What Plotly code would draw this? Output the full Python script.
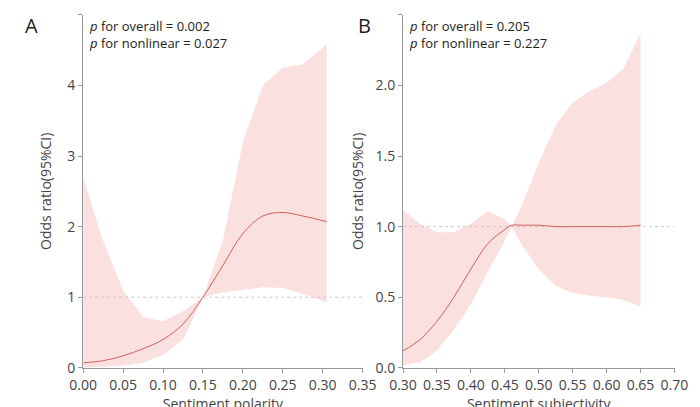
import plotly.graph_objects as go

# Panel A: Sentiment polarity
a_x = [0, 0.025, 0.05, 0.075, 0.1, 0.125, 0.15, 0.175, 0.2, 0.225, 0.25, 0.275, 0.305]
a_or = [0.07, 0.10, 0.17, 0.27, 0.40, 0.62, 1.0, 1.45, 1.9, 2.15, 2.2, 2.15, 2.07]
a_up = [2.7, 1.8, 1.1, 0.72, 0.66, 0.8, 1.0, 1.8, 3.2, 4.0, 4.25, 4.3, 4.58]
a_lo = [0.0, 0.01, 0.03, 0.07, 0.18, 0.4, 1.0, 1.07, 1.11, 1.14, 1.13, 1.05, 0.93]

# Panel B: Sentiment subjectivity
b_x = [0.30, 0.325, 0.35, 0.375, 0.40, 0.425, 0.45, 0.46, 0.475, 0.5, 0.525, 0.55, 0.575, 0.6, 0.625, 0.65]
b_or = [0.12, 0.2, 0.33, 0.5, 0.7, 0.88, 0.98, 1.01, 1.01, 1.01, 1.0, 1.0, 1.0, 1.0, 1.0, 1.01]
b_up = [1.12, 1.02, 0.96, 0.96, 1.02, 1.11, 1.05, 1.0, 1.15, 1.45, 1.72, 1.88, 1.96, 2.02, 2.12, 2.37]
b_lo = [0.02, 0.04, 0.12, 0.27, 0.45, 0.68, 0.9, 1.0, 0.87, 0.7, 0.58, 0.53, 0.51, 0.5, 0.48, 0.43]

FILL = "rgba(246,205,203,0.6)"
LINE = "#d0605a"
fig = go.Figure()

def panel(x, orv, up, lo, xa, ya, xmax):
    fig.add_trace(go.Scatter(x=x + x[::-1], y=up + lo[::-1], fill="toself", fillcolor=FILL,
                             line=dict(width=0), hoverinfo="skip",
                             xaxis=xa, yaxis=ya, showlegend=False))
    fig.add_trace(go.Scatter(x=[x[0], xmax], y=[1, 1], mode="lines",
                             line=dict(color="#c8c8c8", width=1, dash="3px,3px"),
                             xaxis=xa, yaxis=ya, showlegend=False))
    fig.add_trace(go.Scatter(x=x, y=orv, mode="lines", line=dict(color=LINE, width=1, shape="spline"),
                             xaxis=xa, yaxis=ya, showlegend=False))

panel(a_x, a_or, a_up, a_lo, "x", "y", 0.35)
panel(b_x, b_or, b_up, b_lo, "x2", "y2", 0.70)

ax = dict(showline=True, linecolor="#999999", ticks="outside", tickcolor="#999999", ticklen=4,
          showgrid=False, zeroline=False, tickfont=dict(size=14, color="#444"),
          title_font=dict(size=14, color="#444"))
fig.update_layout(
    width=700, height=407, margin=dict(l=0, r=0, t=0, b=0),
    plot_bgcolor="white", paper_bgcolor="white", font=dict(family="Open Sans"),
    xaxis=dict(ax, domain=[0.091, 0.507], range=[0, 0.3501], tickvals=[0, .05, .1, .15, .2, .25, .3, .35],
               tickformat=".2f", title_text="Sentiment polarity", title_standoff=0),
    yaxis=dict(ax, domain=[0.096, 0.983], range=[0, 5.001], tickvals=[0, 1, 2, 3, 4, 5],
               title_text="Odds ratio(95%CI)", anchor="x", title_standoff=12),
    xaxis2=dict(ax, domain=[0.567, 0.971], range=[0.30, 0.7001],
                tickvals=[.3, .35, .4, .45, .5, .55, .6, .65, .7], tickformat=".2f",
                title_text="Sentiment subjectivity", anchor="y2", title_standoff=0),
    yaxis2=dict(ax, domain=[0.096, 0.983], range=[0, 2.501], tickvals=[0, .5, 1, 1.5, 2, 2.5],
                tickformat=".1f", title_text="Odds ratio(95%CI)", anchor="x2", title_standoff=8),
)
for txt, x in [("A", 0.002), ("B", 0.497)]:
    fig.add_annotation(text=txt, xref="paper", yref="paper", x=x, y=0.995, xanchor="left",
                       yanchor="top", showarrow=False, font=dict(size=20, color="#222"))
for xa, ya, p1, p2 in [("x", "y", "0.002", "0.027"), ("x2", "y2", "0.205", "0.227")]:
    fig.add_annotation(text=f"<i>p</i> for overall = {p1}<br><i>p</i> for nonlinear = {p2}",
                       xref=f"{xa} domain", yref=f"{ya} domain", x=0.015, y=1.0, xanchor="left",
                       yanchor="top", align="left", showarrow=False, font=dict(size=13, color="#222"))
fig.write_html("out.html")
